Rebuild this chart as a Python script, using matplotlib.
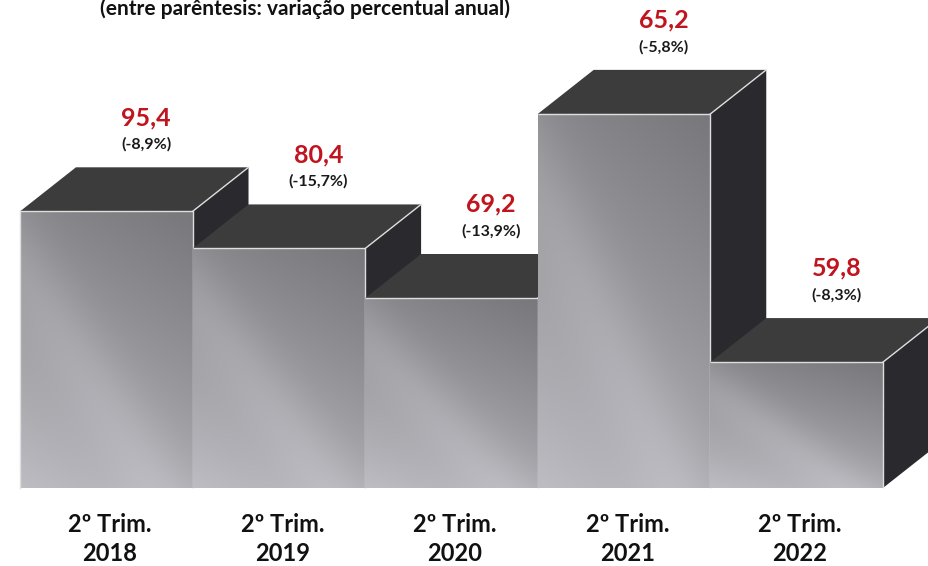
import numpy as np
import matplotlib
matplotlib.use('Agg')
import matplotlib.pyplot as plt
from matplotlib.patches import Polygon, Rectangle

# ---- data ----
years = ['2018', '2019', '2020', '2021', '2022']
quarter_label = '2º Trim.'
values = [95.4, 80.4, 69.2, 65.2, 59.8]
pct_change = [-8.9, -15.7, -13.9, -5.8, -8.3]
# bar heights as they are drawn in the source picture (not proportional to the labels)
drawn_heights = [95.4, 82.6, 65.5, 129.0, 43.4]
title = '(entre parêntesis: variação percentual anual)'

FONT = ['Lato', 'DejaVu Sans']
plt.rcParams['font.family'] = FONT

fig = plt.figure(figsize=(9.29, 5.66), dpi=100)
ax = fig.add_axes([0, 0, 1, 1])
ax.set_xlim(-0.616, 4.767)
ax.set_ylim(-26.9, 168.3)
ax.axis('off')

dx, dy = 0.324, 15.2  # oblique depth offset in data units
edge_col = '#dedede'


def front_gradient(n_y=120, n_x=60):
    yy, xx = np.mgrid[0:1:complex(0, n_y), 0:1:complex(0, n_x)]
    b = 0.74 - 0.20 * yy ** 0.9 - 0.07 * xx
    b += 0.05 * np.exp(-((xx + yy - 0.8) ** 2) / 0.06)
    b = np.clip(b, 0, 1)
    img = np.dstack([b, b, np.clip(b * 1.03, 0, 1)])
    return img


grad = front_gradient()

for i, h in enumerate(drawn_heights):
    z = 2 + i * 4
    L, R = i - 0.5, i + 0.5
    # right side face
    side = Polygon([(R, 0), (R + dx, dy), (R + dx, h + dy), (R, h)], closed=True,
                   facecolor='#2a2a2e', edgecolor='none', zorder=z)
    ax.add_patch(side)
    # top face
    top = Polygon([(L, h), (R, h), (R + dx, h + dy), (L + dx, h + dy)], closed=True,
                  facecolor='#3c3c3d', edgecolor='none', zorder=z + 1)
    ax.add_patch(top)
    # front face with gradient
    rect = Rectangle((L, 0), 1.0, h, facecolor='none', edgecolor='none', zorder=z + 2)
    ax.add_patch(rect)
    im = ax.imshow(grad, extent=(L, R, 0, h), origin='lower', aspect='auto',
                   interpolation='bilinear', zorder=z + 2)
    im.set_clip_path(rect)
    # light edges
    ax.plot([L, R, R], [h, h, 0], color=edge_col, lw=1.0, zorder=z + 3,
            solid_capstyle='butt')
    ax.plot([R, R + dx], [h, h + dy], color=edge_col, lw=1.0, zorder=z + 3)
    if i == 0:
        ax.plot([L, L], [0, h], color=edge_col, lw=1.0, zorder=z + 3)

    # labels
    lx = i + 0.23
    ax.text(lx, h + dy + 17.2, f'{values[i]:.1f}'.replace('.', ','),
            ha='center', va='center', fontsize=18, fontweight='bold',
            color='#c0141e', zorder=50)
    ax.text(lx, h + dy + 7.9, f'({pct_change[i]:.1f}%)'.replace('.', ','),
            ha='center', va='center', fontsize=11.5, fontweight='bold',
            color='#1a1a1a', zorder=50)
    ax.text(i + 0.02, -12.6, quarter_label, ha='center', va='center', fontsize=17,
            fontweight='bold', color='#111111')
    ax.text(i + 0.02, -22.6, years[i], ha='center', va='center', fontsize=17,
            fontweight='bold', color='#111111')

fig.text(0.328, 1 - 15 / 566, title, ha='center', va='baseline', fontsize=15,
         fontweight='bold', color='#111111')

fig.savefig('out.png', dpi=100)
